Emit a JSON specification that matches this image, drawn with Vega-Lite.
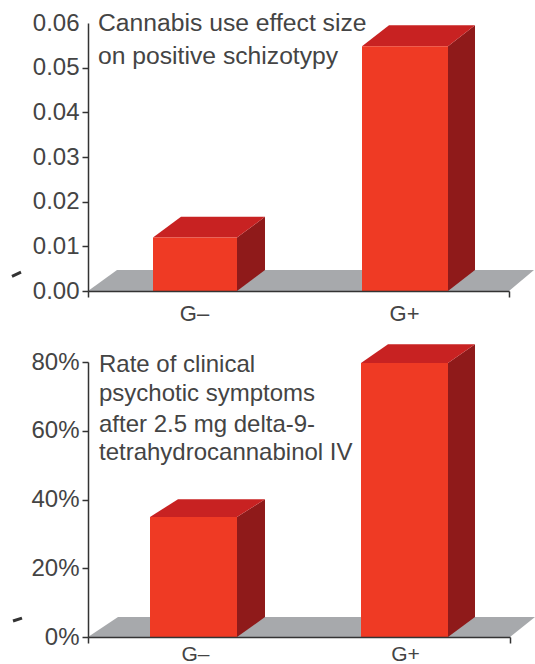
{
"$schema":"https://vega.github.io/schema/vega-lite/v6.json",
"background":"white",
"padding":{"left":10,"top":10,"right":0,"bottom":0},
"bounds":"flush",
"spacing":71,
"config":{"view":{"stroke":null},"font":"Liberation Sans"},
"vconcat":[
{"width":421,"height":268,
"encoding":{
"x":{"field":"x","type":"quantitative","title":null,"scale":{"domain":[0,421],"nice":false,"zero":false},
"axis":{"values":[0,106,316,421],"grid":false,"labelExpr":"datum.value==106?'G–':datum.value==316?'G+':''","labelFontSize":22,"labelColor":"#444444","labelPadding":6,"tickSize":6,"tickColor":"#333333","tickWidth":1.5,"tickOpacity":{"condition":{"test":"datum.value==106||datum.value==316","value":0},"value":1},"domainColor":"#333333","domainWidth":1.5,"zindex":1,"labelFlush":false,"labelOverlap":false}},
"y":{"field":"y","type":"quantitative","title":null,"scale":{"domain":[0,0.06],"nice":false},
"axis":{"values":[0,0.01,0.02,0.03,0.04,0.05,0.06],"format":".2f","grid":false,"labelFontSize":24,"labelColor":"#444444","labelPadding":3,"tickSize":6,"tickColor":"#333333","tickWidth":1.5,"tickOpacity":{"condition":{"test":"datum.value==0.06","value":0},"value":1},"domainColor":"#333333","domainWidth":1.5,"zindex":1,"labelFlush":false,"labelOverlap":false}}
},
"layer":[
{"mark":{"type":"area","orient":"horizontal","color":"#a7a9ac"},
"data":{"values":[{"y":0,"x":0,"x2":421},{"y":0.0047,"x":29,"x2":446}]},
"encoding":{"x2":{"field":"x2"}}},
{"mark":{"type":"area","color":"#8f1a1a"},
"data":{"values":[{"group":"G–","x":149,"y":0.012,"y2":0},{"group":"G–","x":177,"y":0.0166,"y2":0.0047},{"group":"G+","x":360,"y":0.0548,"y2":0},{"group":"G+","x":387,"y":0.0595,"y2":0.0047}]},
"encoding":{"y2":{"field":"y2"},"detail":{"field":"group"}}},
{"mark":{"type":"area","orient":"horizontal","color":"#c82222"},
"data":{"values":[{"group":"G–","y":0.012,"x":65,"x2":149},{"group":"G–","y":0.0166,"x":93,"x2":177},{"group":"G+","y":0.0548,"x":274,"x2":360},{"group":"G+","y":0.0595,"x":301,"x2":387}]},
"encoding":{"x2":{"field":"x2"},"detail":{"field":"group"}}},
{"mark":{"type":"rect","color":"#ef3a24"},
"data":{"values":[{"group":"G–","x":65,"x2":149,"y":0.012,"y2":0},{"group":"G+","x":274,"x2":360,"y":0.0548,"y2":0}]},
"encoding":{"x2":{"field":"x2"},"y2":{"field":"y2"}}},
{"mark":{"type":"text","align":"left","baseline":"middle","fontSize":24.7,"color":"#444444"},
"data":{"values":[{"x":10,"y":0.0598,"label":"Cannabis use effect size"},{"x":10,"y":0.0524,"label":"on positive schizotypy"}]},
"encoding":{"text":{"field":"label"}}},
{"mark":{"type":"rule","color":"#333333","strokeWidth":3},
"data":{"values":[{"x":-76,"x2":-67,"y":0.0033,"y2":0.0042}]},
"encoding":{"x2":{"field":"x2"},"y2":{"field":"y2"}}}
]},
{"width":422,"height":275,
"encoding":{
"x":{"field":"x","type":"quantitative","title":null,"scale":{"domain":[0,422],"nice":false,"zero":false},
"axis":{"values":[0,107,317,422],"grid":false,"labelExpr":"datum.value==107?'G–':datum.value==317?'G+':''","labelFontSize":21,"labelColor":"#444444","labelPadding":0,"tickSize":6,"tickColor":"#333333","tickWidth":1.5,"tickOpacity":{"condition":{"test":"datum.value==107||datum.value==317","value":0},"value":1},"domainColor":"#333333","domainWidth":1.5,"zindex":1,"labelFlush":false,"labelOverlap":false}},
"y":{"field":"y","type":"quantitative","title":null,"scale":{"domain":[0,0.8],"nice":false},
"axis":{"values":[0,0.2,0.4,0.6,0.8],"format":".0%","grid":false,"labelFontSize":24,"labelColor":"#444444","labelPadding":3,"tickSize":6,"tickColor":"#333333","tickWidth":1.5,"domainColor":"#333333","domainWidth":1.5,"zindex":1,"labelFlush":false,"labelOverlap":false}}
},
"layer":[
{"mark":{"type":"area","orient":"horizontal","color":"#a7a9ac"},
"data":{"values":[{"y":0,"x":0,"x2":422},{"y":0.058,"x":30,"x2":447}]},
"encoding":{"x2":{"field":"x2"}}},
{"mark":{"type":"area","color":"#8f1a1a"},
"data":{"values":[{"group":"G–","x":149,"y":0.349,"y2":0},{"group":"G–","x":177,"y":0.401,"y2":0.058},{"group":"G+","x":360,"y":0.797,"y2":0},{"group":"G+","x":387,"y":0.852,"y2":0.058}]},
"encoding":{"y2":{"field":"y2"},"detail":{"field":"group"}}},
{"mark":{"type":"area","orient":"horizontal","color":"#c82222"},
"data":{"values":[{"group":"G–","y":0.349,"x":62,"x2":149},{"group":"G–","y":0.401,"x":90,"x2":177},{"group":"G+","y":0.797,"x":273,"x2":360},{"group":"G+","y":0.852,"x":300,"x2":387}]},
"encoding":{"x2":{"field":"x2"},"detail":{"field":"group"}}},
{"mark":{"type":"rect","color":"#ef3a24"},
"data":{"values":[{"group":"G–","x":62,"x2":149,"y":0.349,"y2":0},{"group":"G+","x":273,"x2":360,"y":0.797,"y2":0}]},
"encoding":{"x2":{"field":"x2"},"y2":{"field":"y2"}}},
{"mark":{"type":"text","align":"left","baseline":"middle","fontSize":24,"color":"#444444"},
"data":{"values":[{"x":11,"y":0.79,"label":"Rate of clinical"},{"x":11,"y":0.707,"label":"psychotic symptoms"},{"x":11,"y":0.618,"label":"after 2.5 mg delta-9-"},{"x":11,"y":0.536,"label":"tetrahydrocannabinol IV"}]},
"encoding":{"text":{"field":"label"}}},
{"mark":{"type":"rule","color":"#333333","strokeWidth":3},
"data":{"values":[{"x":-75,"x2":-66,"y":0.0465,"y2":0.055}]},
"encoding":{"x2":{"field":"x2"},"y2":{"field":"y2"}}}
]}
]}
